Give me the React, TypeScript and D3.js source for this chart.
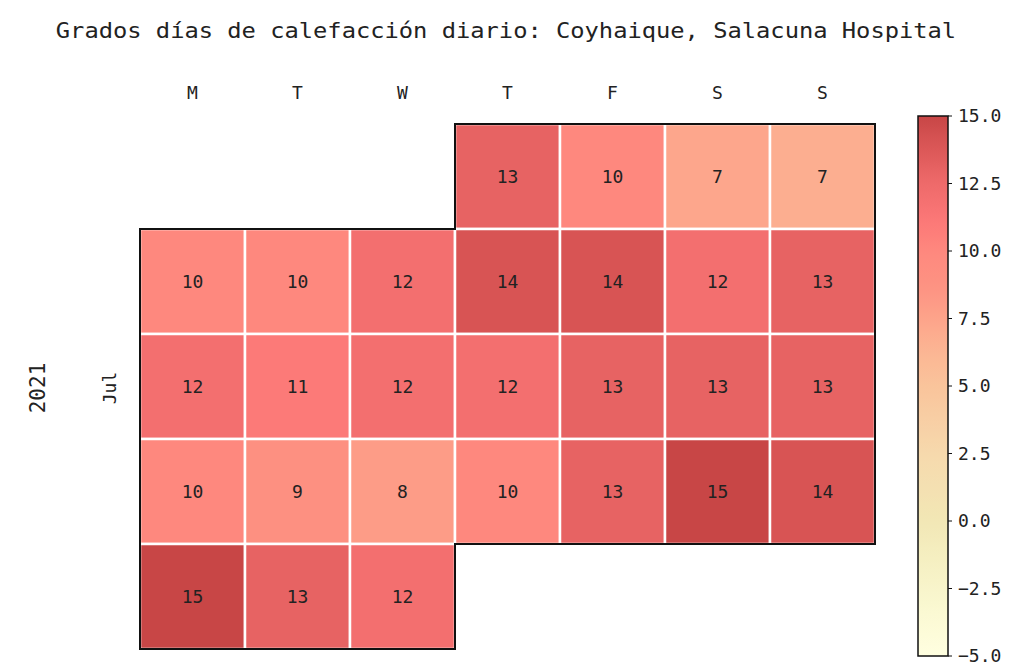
import React, { useEffect } from "react";
import * as d3 from "d3";

// daily heating degree values, July 2021 (Mon..Sun rows), null = no day
const weekdays = ["M", "T", "W", "T", "F", "S", "S"];
const year = "2021";
const month = "Jul";
const firstWeekday = 3; // 1 Jul 2021 is a Thursday
const dailyValues = [
  13, 10, 7.3, 6.8,
  10, 10, 12, 14, 14, 12, 13,
  12, 11, 12, 12, 13, 13, 13,
  10, 9, 8, 10, 13, 15, 14,
  15, 13, 12,
];
const colorTicks = [15.0, 12.5, 10.0, 7.5, 5.0, 2.5, 0.0, -2.5, -5.0];
const colorStops = [
  [-5, "#ffffe0"],
  [-2.5, "#f8f5cb"],
  [0, "#f2e7b5"],
  [2.5, "#f6d9ad"],
  [5, "#f9c49b"],
  [6.5, "#fcb392"],
  [7.5, "#fda38a"],
  [8.75, "#fd9282"],
  [10, "#fe887e"],
  [11.25, "#fb7676"],
  [12.5, "#ee6a6a"],
  [13.75, "#dc5858"],
  [15, "#c84646"],
];

const W = 1022;
const H = 667;
const mono = "'DejaVu Sans Mono', monospace";

const App: React.FC = () => {
  useEffect(() => {
    document.body.style.margin = "0";
  }, []);

  const color = d3
    .scaleLinear<string>()
    .domain(colorStops.map((d) => d[0] as number))
    .range(colorStops.map((d) => d[1] as string))
    .interpolate(d3.interpolateRgb)
    .clamp(true);

  const nWeeks = Math.ceil((firstWeekday + dailyValues.length) / 7);
  const x = d3.scaleBand<number>().domain(d3.range(7)).range([140, 875]);
  const y = d3.scaleBand<number>().domain(d3.range(nWeeks)).range([124, 649]);
  const cw = x.bandwidth();
  const ch = y.bandwidth();

  const cells = dailyValues.map((v, i) => {
    const k = i + firstWeekday;
    return { v, col: k % 7, row: Math.floor(k / 7) };
  });

  // month outline
  const last = cells[cells.length - 1];
  const x0 = x(0)!;
  const x7 = x(6)! + cw;
  const xf = x(firstWeekday)!;
  const xl = x(last.col)! + cw;
  const yTop = y(0)!;
  const y1 = y(1)!;
  const yLastTop = y(last.row)!;
  const yBot = y(last.row)! + ch;
  const outline = d3.path();
  outline.moveTo(x0, y1);
  outline.lineTo(xf, y1);
  outline.lineTo(xf, yTop);
  outline.lineTo(x7, yTop);
  outline.lineTo(x7, yLastTop);
  outline.lineTo(xl, yLastTop);
  outline.lineTo(xl, yBot);
  outline.lineTo(x0, yBot);
  outline.closePath();

  // colorbar
  const cbX = 918;
  const cbW = 30;
  const cy = d3.scaleLinear().domain([-5, 15]).range([656, 116]);
  const gradStops = d3.range(0, 1.0001, 0.02).map((t) => ({
    offset: t,
    c: color(-5 + 20 * t),
  }));

  return (
    <svg width={W} height={H} style={{ position: "absolute", left: 0, top: 0, background: "#fff" }}>
      <defs>
        <linearGradient id="cbar" x1="0" y1="1" x2="0" y2="0">
          {gradStops.map((s, i) => (
            <stop key={i} offset={s.offset} stopColor={s.c} />
          ))}
        </linearGradient>
      </defs>
      <text
        x={506}
        y={38}
        textAnchor="middle"
        fontFamily={mono}
        fontSize={22}
        fill="#222"
        transform="translate(506,0) scale(1.08,1) translate(-506,0)"
      >
        Grados días de calefacción diario: Coyhaique, Salacuna Hospital
      </text>
      {weekdays.map((d, i) => (
        <text key={i} x={x(i)! + cw / 2} y={99} textAnchor="middle" fontFamily={mono} fontSize={18} fill="#222">
          {d}
        </text>
      ))}
      <text
        transform={`translate(45,388) rotate(-90)`}
        textAnchor="middle"
        fontFamily={mono}
        fontSize={21}
        fill="#222"
      >
        {year}
      </text>
      <text
        transform={`translate(116,388) rotate(-90)`}
        textAnchor="middle"
        fontFamily={mono}
        fontSize={18}
        fill="#222"
      >
        {month}
      </text>
      <g>
        {cells.map((c, i) => (
          <g key={i}>
            <rect
              x={x(c.col)!}
              y={y(c.row)!}
              width={cw}
              height={ch}
              fill={color(c.v)}
              stroke="#fff"
              strokeWidth={2.5}
            />
            <text
              x={x(c.col)! + cw / 2}
              y={y(c.row)! + ch / 2}
              dy="0.35em"
              textAnchor="middle"
              fontFamily={mono}
              fontSize={18}
              fill="#222"
            >
              {d3.format("d")(Math.round(c.v))}
            </text>
          </g>
        ))}
      </g>
      <path d={outline.toString()} fill="none" stroke="#111" strokeWidth={2} />
      <rect x={cbX} y={cy(15)} width={cbW} height={cy(-5) - cy(15)} fill="url(#cbar)" stroke="#111" strokeWidth={1.5} />
      {colorTicks.map((t, i) => (
        <g key={i}>
          <line x1={cbX + cbW} x2={cbX + cbW + 4} y1={cy(t)} y2={cy(t)} stroke="#111" strokeWidth={1} />
          <text
            x={cbX + cbW + 10}
            y={cy(t)}
            dy="0.35em"
            fontFamily={mono}
            fontSize={18}
            fill="#222"
          >
            {d3.format(".1f")(t).replace("-", "\u2212")}
          </text>
        </g>
      ))}
    </svg>
  );
};

export default App;
